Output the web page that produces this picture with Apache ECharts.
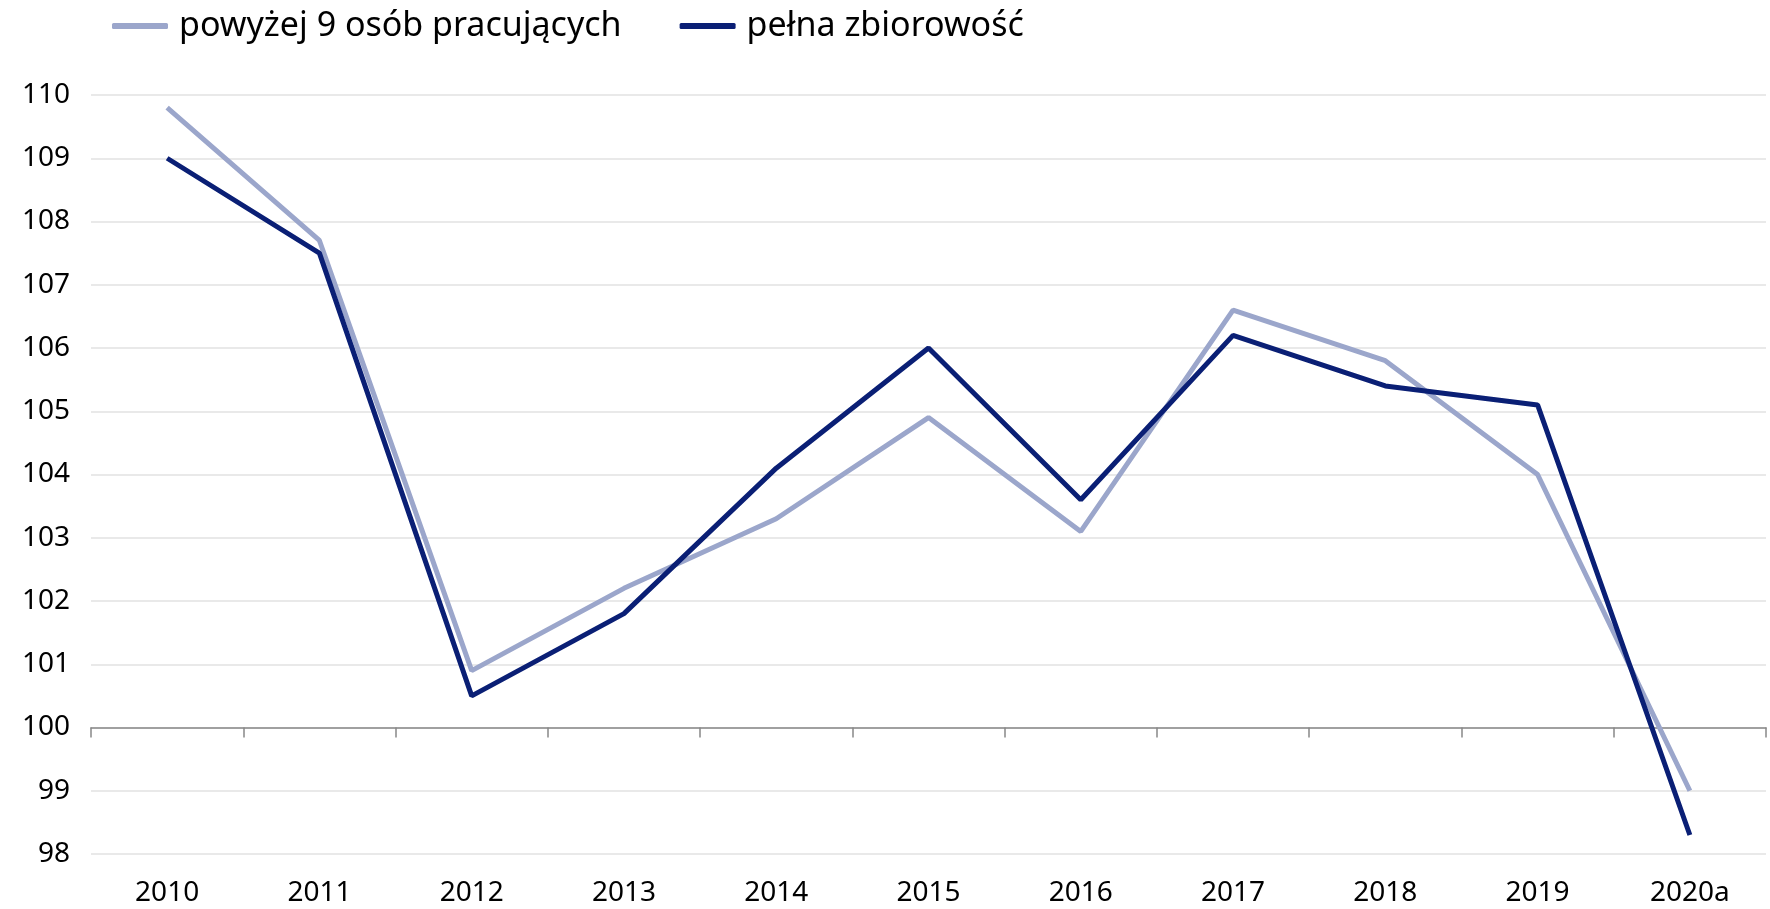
<!DOCTYPE html>
<html><head><meta charset="utf-8">
<script src="https://cdn.jsdelivr.net/npm/echarts@6/dist/echarts.min.js"></script>
<style>html,body{margin:0;padding:0;background:#fff}#c{width:1770px;height:909px}</style>
</head><body><div id="c"></div>
<script>
const categories = ['2010','2011','2012','2013','2014','2015','2016','2017','2018','2019','2020a'];
const seriesNames = ['powyżej 9 osób pracujących','pełna zbiorowość'];
const above9 = [109.8,107.7,100.9,102.2,103.3,104.9,103.1,106.6,105.8,104.0,99.0];
const full = [109.0,107.5,100.5,101.8,104.1,106.0,103.6,106.2,105.4,105.1,98.3];
const yMin = 98, yMax = 110, yStep = 1, axisValue = 100;

const FONT = 'Noto Sans';
const gridTop = 95, gridBottom = 55, gridLeft = 91, gridRight = 4;
const chart = echarts.init(document.getElementById('c'));
// second grid ends at the value 100 so that its axis line sits there
const plotH = 909 - gridTop - gridBottom;
const bottom2 = gridBottom + plotH * (axisValue - yMin) / (yMax - yMin);

chart.setOption({
  animation:false,
  legend:{
    left:107, top:4, itemWidth:56, itemHeight:6, itemGap:58, icon:'roundRect',
    textStyle:{fontFamily:FONT, fontSize:34, color:'#000', padding:[0,0,0,6]},
    data:seriesNames
  },
  grid:[
    {left:gridLeft, right:gridRight, top:gridTop, bottom:gridBottom},
    {left:gridLeft, right:gridRight, top:gridTop, bottom:bottom2}
  ],
  xAxis:[
    {type:'category', gridIndex:0, data:categories, boundaryGap:true,
     axisLine:{show:false}, axisTick:{show:false},
     axisLabel:{fontFamily:FONT, fontSize:28, color:'#000', margin:25}},
    {type:'category', gridIndex:1, data:categories, boundaryGap:true,
     axisLine:{show:true, lineStyle:{color:'#888', width:1.5}},
     axisTick:{show:true, length:10, lineStyle:{color:'#888', width:1.5}},
     axisLabel:{show:false}}
  ],
  yAxis:[
    {type:'value', gridIndex:0, min:yMin, max:yMax, interval:yStep,
     axisLine:{show:false}, axisTick:{show:false},
     splitLine:{lineStyle:{color:'#e2e2e2', width:1.5}},
     axisLabel:{fontFamily:FONT, fontSize:28, color:'#000', margin:21}},
    {type:'value', gridIndex:1, min:axisValue, max:yMax, show:false}
  ],
  series:[
    {name:seriesNames[0], type:'line', data:above9, xAxisIndex:0, yAxisIndex:0,
     symbol:'none', lineStyle:{color:'#9BA6CB', width:5}, itemStyle:{color:'#9BA6CB'}, z:2},
    {name:seriesNames[1], type:'line', data:full, xAxisIndex:0, yAxisIndex:0,
     symbol:'none', lineStyle:{color:'#0A1F75', width:5}, itemStyle:{color:'#0A1F75'}, z:3}
  ]
});
</script></body></html>
